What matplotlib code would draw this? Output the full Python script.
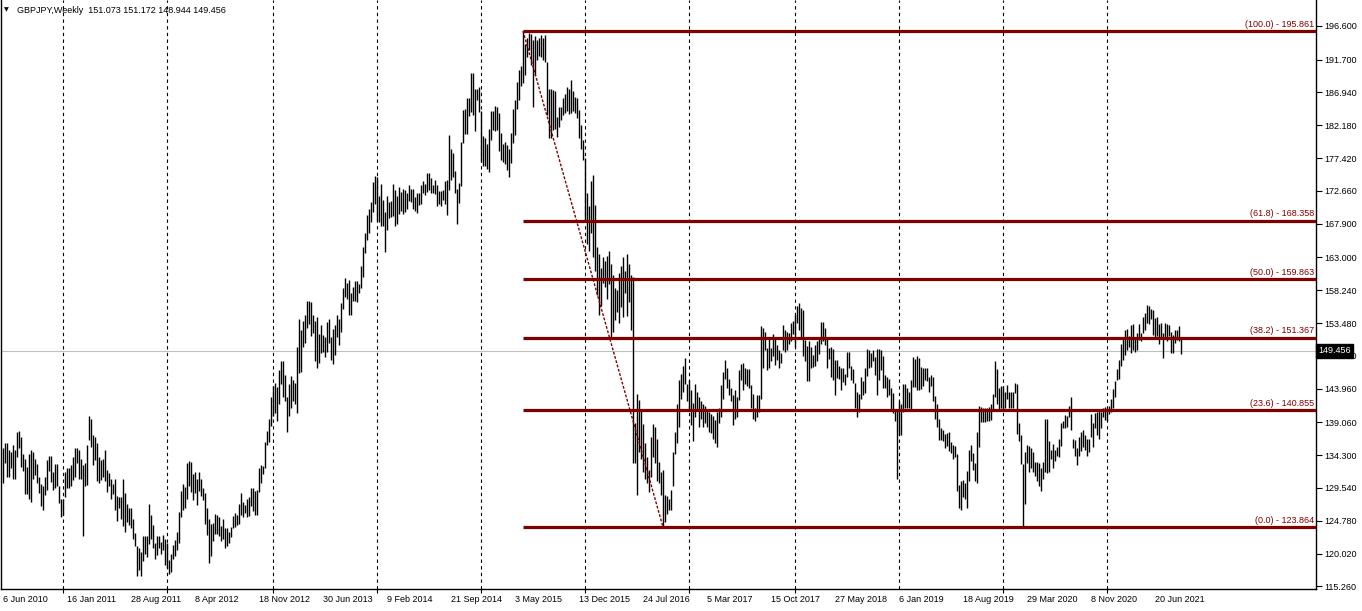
import matplotlib.pyplot as plt
import matplotlib.transforms as mtransforms
import pandas as pd

plt.rcParams['font.family'] = ['Liberation Sans', 'DejaVu Sans']

# weekly bars, first bar = week of 6 Jun 2010
first_week = "2010-06-06"
highs = [
    135.3, 136.0, 136.1, 135.1, 134.7, 135.8, 135.0, 137.6, 137.8, 137.0,
    134.5, 133.7, 132.6, 134.5, 135.0, 134.8, 133.7, 133.0, 131.1, 130.1,
    129.8, 131.1, 133.6, 134.2, 134.2, 131.8, 133.0, 133.0, 129.8, 128.0,
    128.0, 131.9, 132.4, 132.5, 132.9, 134.1, 135.4, 135.4, 135.0, 133.7,
    132.9, 133.1, 135.8, 140.0, 139.5, 137.2, 137.0, 136.0, 134.1, 133.6,
    133.7, 135.0, 132.2, 131.7, 130.9, 130.1, 130.8, 128.4, 128.3, 128.3,
    130.8, 128.8, 127.2, 126.7, 126.6, 125.0, 123.0, 121.1, 120.8, 120.3,
    122.6, 122.6, 122.5, 127.2, 125.6, 124.2, 121.5, 122.6, 122.5, 121.7,
    122.7, 122.1, 121.6, 119.1, 120.0, 121.3, 122.0, 123.2, 126.1, 129.1,
    130.1, 129.7, 133.1, 133.5, 133.3, 131.6, 131.9, 130.8, 131.8, 130.9,
    129.5, 128.8, 126.6, 125.0, 124.3, 124.5, 125.7, 125.6, 125.4, 124.0,
    125.0, 123.7, 123.7, 123.2, 123.9, 125.5, 125.9, 125.6, 127.2, 128.8,
    127.5, 127.1, 128.0, 128.2, 129.6, 129.6, 129.1, 129.3, 132.4, 132.9,
    132.7, 136.2, 137.8, 139.5, 142.8, 144.3, 144.8, 144.2, 146.6, 148.0,
    148.0, 145.9, 142.8, 144.7, 145.8, 145.2, 144.8, 150.0, 154.0, 152.5,
    153.8, 154.6, 156.7, 156.7, 156.6, 154.6, 153.8, 154.3, 151.9, 153.2,
    151.7, 151.4, 153.7, 154.0, 151.5, 152.6, 153.2, 154.6, 154.0, 156.4,
    158.5, 160.0, 159.3, 159.7, 157.9, 158.7, 159.6, 159.6, 159.2, 161.7,
    164.5, 166.6, 169.2, 170.0, 171.1, 174.0, 174.8, 174.7, 171.9, 173.6,
    171.4, 169.6, 171.9, 171.1, 171.2, 173.6, 172.8, 171.9, 173.2, 172.5,
    173.0, 172.8, 172.3, 173.5, 173.0, 172.9, 171.8, 172.4, 172.4, 173.5,
    174.1, 173.6, 175.3, 175.3, 174.5, 173.5, 174.2, 173.5, 172.7, 172.7,
    172.8, 174.1, 174.2, 180.8, 178.8, 178.2, 175.6, 173.0, 173.8, 179.8,
    184.4, 184.6, 186.1, 186.1, 189.7, 189.7, 187.4, 187.5, 187.8, 184.3,
    180.6, 180.4, 179.5, 181.7, 184.3, 184.3, 185.0, 184.9, 183.9, 181.0,
    179.5, 179.7, 179.3, 178.8, 181.0, 184.5, 185.9, 188.5, 190.2, 190.8,
    195.861, 194.0, 194.9, 195.5, 195.4, 194.6, 195.1, 194.6, 194.8, 195.3,
    194.9, 195.3, 191.4, 187.4, 187.5, 187.3, 187.2, 183.4, 184.8, 184.9,
    186.2, 186.7, 187.7, 187.4, 188.7, 187.1, 186.3, 186.2, 184.4, 182.2,
    180.0, 177.4, 172.3, 170.4, 174.1, 175.0, 170.6, 164.5, 163.5, 161.5,
    163.0, 162.5, 163.2, 164.0, 162.0, 160.5, 158.5, 158.3, 160.8, 161.7,
    163.0, 161.0, 163.5, 162.0, 160.5, 160.2, 138.9, 143.2, 142.3, 140.9,
    138.8, 136.1, 134.0, 132.1, 137.0, 138.8, 138.4, 136.6, 133.3, 131.9,
    132.2, 128.5, 128.4, 128.0, 129.3, 134.8, 137.6, 141.7, 145.2, 146.1,
    147.2, 148.4, 144.6, 145.2, 143.8, 141.9, 144.7, 143.4, 142.8, 142.2,
    141.8, 141.4, 140.8, 140.5, 140.3, 140.0, 139.4, 140.5, 141.2, 144.5,
    146.4, 148.1, 147.0, 145.3, 144.0, 143.0, 143.7, 142.7, 146.6, 147.6,
    147.7, 146.9, 146.8, 146.8, 144.5, 143.2, 141.2, 143.0, 143.0, 153.0,
    152.7, 152.2, 149.8, 151.1, 149.8, 151.9, 151.3, 150.3, 149.6, 149.2,
    153.2, 152.4, 152.2, 152.1, 153.5, 153.8, 154.6, 155.9, 156.4, 155.6,
    155.4, 151.0, 150.1, 150.8, 150.0, 148.8, 150.3, 150.8, 151.1, 153.7,
    153.7, 152.7, 151.3, 149.8, 150.0, 149.7, 148.1, 148.1, 147.2, 146.9,
    146.9, 146.1, 149.3, 149.3, 147.2, 146.8, 144.8, 143.5, 143.2, 145.6,
    145.1, 147.0, 149.7, 149.5, 149.2, 149.6, 148.5, 149.7, 149.7, 149.5,
    148.7, 145.9, 145.6, 145.4, 144.0, 143.3, 140.9, 140.9, 142.1, 141.7,
    144.7, 144.6, 144.0, 143.4, 145.2, 148.5, 148.2, 148.7, 148.4, 147.1,
    147.0, 146.9, 146.9, 145.7, 145.9, 145.7, 142.9, 141.7, 139.6, 138.2,
    138.0, 137.4, 137.5, 137.7, 136.2, 135.8, 135.6, 134.5, 130.0, 130.5,
    130.7, 130.3, 132.0, 135.1, 135.8, 134.6, 133.2, 137.7, 141.4, 141.3,
    141.1, 141.1, 141.2, 141.3, 141.8, 143.2, 148.0, 146.8, 144.0, 144.3,
    144.3, 143.4, 144.5, 143.4, 143.4, 143.5, 144.8, 144.6, 139.0, 137.2,
    133.0, 134.7, 135.8, 135.6, 135.4, 134.7, 133.3, 133.3, 133.2, 132.4,
    133.3, 139.6, 139.5, 136.3, 135.1, 135.9, 135.0, 135.5, 136.6, 139.0,
    139.3, 140.1, 140.0, 141.4, 142.7, 136.6, 136.5, 135.3, 137.0, 137.7,
    137.9, 137.2, 136.6, 136.6, 140.3, 139.0, 140.4, 140.5, 140.9, 140.6,
    141.1, 141.3, 141.2, 141.4, 142.4, 143.9, 145.0, 146.8, 148.1, 150.4,
    151.1, 152.5, 152.6, 151.6, 153.2, 153.3, 151.3, 152.1, 153.4, 152.1,
    154.4, 155.0, 156.1, 156.0, 155.5, 155.4, 154.2, 154.3, 153.4, 153.5,
    152.1, 153.5, 153.3, 153.2, 152.2, 151.7, 152.4, 152.5, 153.0, 151.172,
]
lows = [
    130.3, 133.2, 131.2, 131.2, 132.5, 130.9, 130.8, 134.0, 135.3, 132.6,
    132.0, 128.7, 128.7, 127.9, 127.5, 130.8, 131.4, 130.2, 128.8, 126.9,
    126.4, 128.5, 129.3, 132.0, 130.4, 129.2, 129.6, 129.8, 127.3, 125.4,
    125.6, 128.2, 129.5, 129.5, 129.8, 130.7, 131.2, 133.2, 130.9, 130.8,
    122.5, 129.8, 130.0, 136.5, 135.5, 132.9, 133.6, 130.6, 130.2, 130.7,
    131.2, 130.6, 129.0, 129.8, 127.9, 128.7, 126.4, 124.8, 126.6, 125.0,
    124.0, 123.2, 124.6, 124.2, 123.7, 122.1, 121.1, 116.7, 117.7, 116.8,
    119.0, 120.0, 119.5, 121.4, 122.1, 120.8, 119.3, 119.8, 120.8, 120.0,
    120.5, 118.3, 117.9, 117.1, 117.4, 119.3, 119.6, 120.5, 121.6, 125.4,
    126.4, 126.6, 128.0, 129.8, 129.0, 127.8, 128.8, 127.1, 129.1, 128.4,
    127.8, 124.3, 122.7, 118.6, 119.6, 121.9, 122.9, 122.9, 122.5, 121.9,
    122.1, 120.8, 121.1, 121.6, 122.4, 123.7, 123.9, 124.2, 124.3, 125.6,
    125.4, 125.9, 125.4, 125.5, 126.9, 126.2, 125.6, 125.6, 129.0, 130.3,
    131.6, 132.5, 135.8, 136.2, 138.5, 140.0, 140.4, 139.2, 141.7, 144.7,
    142.7, 142.1, 137.7, 140.0, 141.2, 142.1, 141.7, 140.4, 146.3, 146.4,
    150.0, 150.6, 152.7, 153.3, 151.6, 152.1, 148.0, 147.0, 147.7, 149.2,
    149.3, 148.6, 149.3, 150.6, 148.1, 147.5, 148.8, 151.5, 150.3, 152.2,
    155.5, 157.3, 156.9, 154.6, 154.6, 156.7, 156.7, 156.6, 157.9, 158.5,
    160.2, 163.6, 165.6, 166.5, 168.2, 169.6, 170.8, 168.3, 168.2, 167.5,
    167.5, 163.8, 167.0, 168.7, 168.9, 169.0, 167.6, 167.8, 169.3, 169.8,
    169.3, 169.6, 170.0, 171.2, 171.1, 170.1, 169.8, 169.5, 170.6, 170.8,
    172.3, 172.1, 172.5, 172.8, 172.3, 172.3, 172.2, 170.5, 170.7, 170.5,
    171.4, 170.8, 169.2, 172.8, 174.2, 174.7, 172.3, 167.9, 170.9, 173.3,
    179.6, 180.9, 180.9, 183.5, 184.1, 183.7, 181.4, 185.8, 184.1, 177.0,
    176.2, 176.2, 175.8, 175.4, 180.1, 181.5, 181.3, 181.5, 178.5, 177.1,
    176.8, 176.6, 175.7, 174.7, 176.7, 179.6, 180.8, 184.5, 185.9, 187.9,
    188.3, 189.5, 192.1, 193.1, 190.9, 184.9, 189.5, 191.7, 192.2, 192.1,
    191.7, 191.3, 183.7, 180.4, 180.4, 181.5, 181.7, 180.5, 182.0, 183.0,
    183.7, 183.9, 184.2, 183.8, 183.9, 184.3, 183.9, 183.2, 180.3, 178.8,
    177.1, 168.5, 165.0, 164.0, 166.5, 163.0, 161.0, 157.5, 154.6, 155.9,
    159.3, 158.7, 157.0, 159.2, 151.5, 152.2, 153.9, 155.1, 153.5, 155.8,
    154.4, 157.8, 154.5, 156.6, 152.5, 133.1, 133.2, 128.5, 134.8, 133.8,
    131.9, 130.9, 130.2, 129.0, 131.2, 134.1, 133.2, 130.5, 130.3, 128.5,
    123.864, 124.6, 125.8, 126.3, 126.4, 129.8, 134.5, 136.0, 138.4, 142.5,
    143.5, 144.7, 142.1, 140.8, 138.7, 136.3, 139.9, 140.8, 138.4, 139.5,
    138.4, 139.0, 138.4, 137.6, 137.5, 136.7, 136.0, 135.5, 139.0, 139.9,
    142.5, 145.3, 144.0, 143.0, 142.1, 138.7, 139.6, 139.9, 142.3, 145.2,
    143.7, 144.7, 144.3, 144.0, 141.1, 139.6, 139.2, 139.9, 140.5, 142.4,
    146.9, 149.5, 146.7, 147.0, 147.9, 148.7, 147.4, 148.1, 147.0, 147.7,
    149.5, 149.3, 149.6, 150.5, 150.9, 151.9, 150.0, 153.5, 152.5, 151.4,
    148.7, 148.0, 145.0, 145.1, 147.0, 147.1, 147.2, 147.9, 149.0, 150.5,
    150.9, 150.3, 147.0, 148.2, 145.7, 145.2, 143.0, 145.5, 145.4, 143.7,
    144.9, 144.5, 145.7, 146.9, 145.2, 144.8, 141.1, 139.8, 140.5, 142.5,
    143.0, 143.3, 145.8, 147.0, 147.1, 147.9, 145.9, 143.0, 145.2, 146.7,
    144.1, 144.0, 142.7, 143.0, 141.0, 140.4, 139.3, 130.9, 137.2, 137.2,
    140.5, 141.1, 141.1, 141.2, 140.9, 144.2, 144.2, 143.7, 143.7, 143.9,
    144.3, 145.2, 145.0, 143.5, 144.4, 142.1, 139.6, 138.4, 136.5, 136.5,
    136.4, 135.3, 135.6, 134.9, 134.6, 133.8, 134.1, 129.1, 126.7, 126.4,
    128.3, 128.0, 126.6, 130.5, 133.4, 132.1, 130.5, 130.3, 135.5, 139.1,
    139.1, 139.1, 139.3, 139.2, 139.4, 141.0, 142.8, 141.7, 141.0, 141.1,
    140.8, 141.1, 142.5, 141.1, 141.1, 141.1, 143.3, 137.4, 136.3, 133.0,
    123.9, 127.2, 133.2, 131.9, 132.5, 131.8, 131.3, 130.5, 129.8, 129.1,
    130.8, 131.8, 131.7, 131.8, 133.8, 132.5, 133.5, 134.2, 134.0, 135.6,
    138.2, 138.2, 138.4, 139.8, 138.0, 135.3, 134.2, 132.9, 134.2, 134.9,
    135.5, 135.0, 134.2, 134.8, 137.0, 135.5, 138.2, 137.2, 136.7, 138.2,
    139.8, 139.4, 139.2, 140.3, 140.5, 141.1, 142.8, 145.2, 145.3, 147.2,
    148.1, 148.8, 149.5, 150.0, 149.2, 149.5, 149.3, 149.5, 151.0, 150.8,
    152.0, 152.5, 153.5, 153.3, 154.0, 151.7, 151.3, 151.6, 150.5, 151.5,
    148.4, 151.5, 150.9, 151.6, 149.1, 149.2, 150.6, 151.0, 150.8, 148.944,
]

# fibonacci retracement drawn from the 2015 top to the 2016 low
fib_levels = [0.0, 23.6, 38.2, 50.0, 61.8, 100.0]
fib_low = 123.864
fib_high = 195.861
peak_bar = 260
trough_bar = 330

last_price = 149.456
header = "GBPJPY,Weekly  151.073 151.172 148.944 149.456"

y_ticks = [196.600, 191.700, 186.940, 182.180, 177.420, 172.660, 167.900, 163.000, 158.240,
           153.480, 148.720, 143.960, 139.060, 134.300, 129.540, 124.780, 120.020, 115.260]

RED = '#800000'

dates = pd.date_range(first_week, periods=len(highs), freq='W-SUN')
x = list(range(len(highs)))

fig = plt.figure(figsize=(13.62, 6.11), dpi=100)
ax = fig.add_axes([1 / 1362, 22 / 611, 1315 / 1362, 589 / 611])

# year separators
year_starts = [i for i in x if i > 0 and dates[i].year != dates[i - 1].year]
for i in year_starts:
    ax.axvline(i, color='black', lw=0.8, ls=(0, (3, 3)), zorder=1)

ax.axhline(last_price, color='#c0c0c0', lw=0.8, zorder=1)

# bars
ax.vlines(x, lows, highs, color='black', lw=1.0, zorder=3)

# fibo
rng = fib_high - fib_low
for lvl in fib_levels:
    price = fib_low + rng * lvl / 100
    ax.hlines(price, peak_bar, 700, color=RED, lw=2.3, zorder=4)
    ax.text(655.5, price + 0.35, f"({lvl:.1f}) - {price + 1e-7:.3f}", ha='right', va='bottom',
            color=RED, fontsize=6.5, zorder=5)
ax.plot([peak_bar, trough_bar], [fib_high, fib_low], color=RED, lw=1.0, ls=(0, (2, 1.2)), zorder=4)

ax.set_xlim(-1, 656.5)
ax.set_ylim(114.88, 200.36)

# price axis on the right
ax.yaxis.tick_right()
ax.set_yticks(y_ticks)
ax.set_yticklabels([f"{v:.3f}" for v in y_ticks])
ax.tick_params(axis='y', length=4, width=0.8, pad=2, labelsize=6.5, colors='black')

# date labels every 32 weeks
lab_idx = x[::32]
ax.set_xticks(lab_idx)
ax.set_xticklabels([f"{dates[i].day} {dates[i].strftime('%b %Y')}" for i in lab_idx],
                   ha='left', fontsize=6.5)
ax.tick_params(axis='x', length=0, pad=4)
ax.set_xticks(year_starts, minor=True)
ax.tick_params(axis='x', which='minor', length=3, width=0.8)

for side in ['left', 'bottom', 'right']:
    ax.spines[side].set_linewidth(1.0)
ax.spines['top'].set_visible(False)

# current price marker on the axis
trans = mtransforms.blended_transform_factory(ax.transAxes, ax.transData)
ax.text(1.0015, last_price, "149.456", transform=trans, ha='left', va='center', fontsize=6.5,
        color='white', bbox=dict(boxstyle='square,pad=0.25', fc='black', ec='black'), zorder=10)

# header
ax.text(0.0025, 0.983, "\u25bc", transform=ax.transAxes, fontsize=4.5, va='center', ha='left',
        family=['DejaVu Sans'])
ax.text(0.0125, 0.983, header, transform=ax.transAxes, fontsize=6.5, va='center', ha='left')

fig.savefig("out.png", dpi=100)
